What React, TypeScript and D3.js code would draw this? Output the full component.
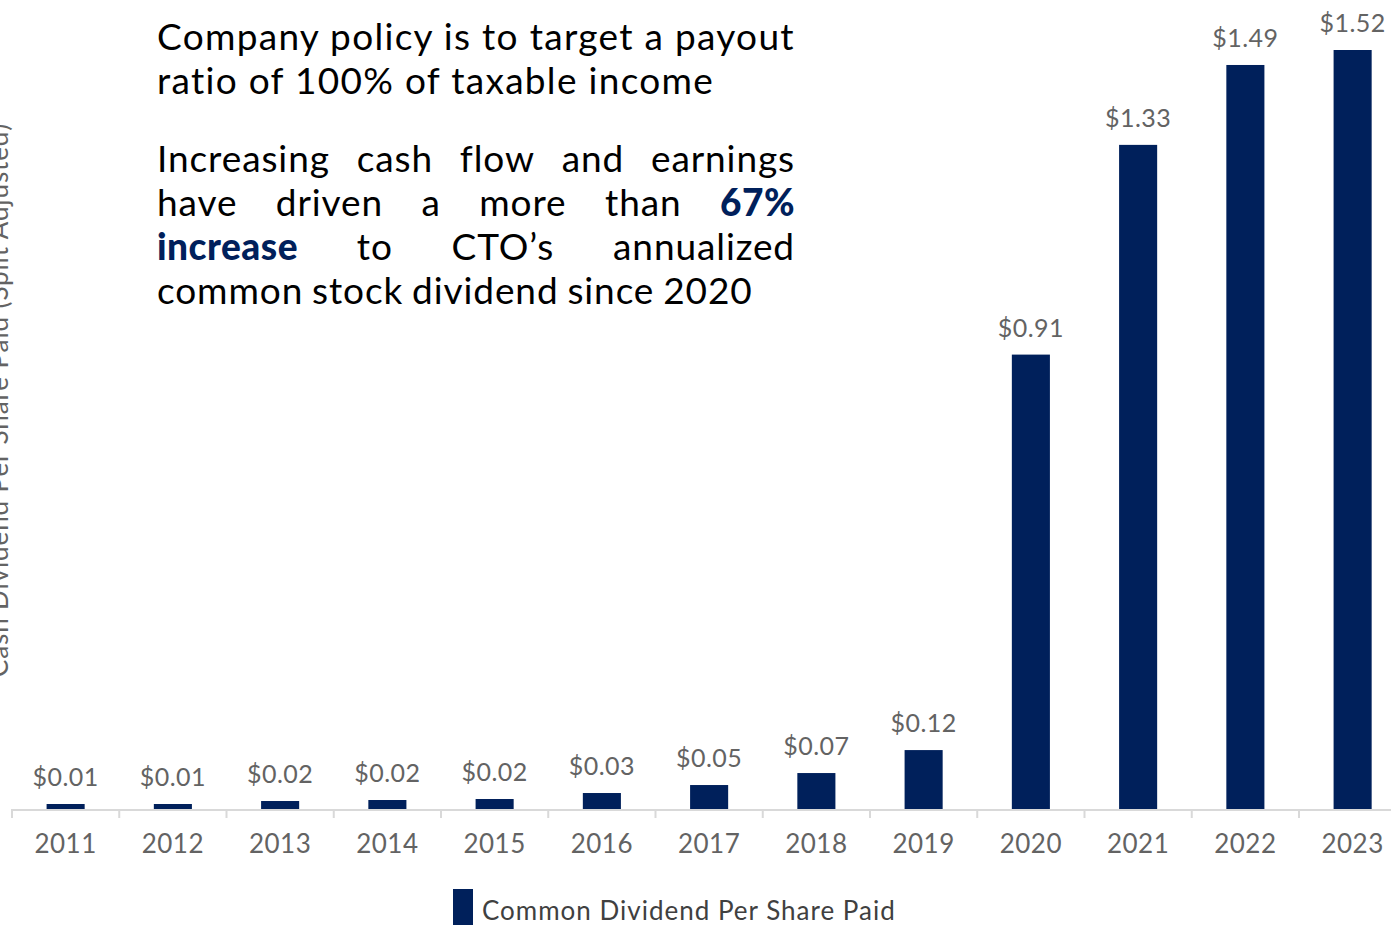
import React, { useEffect, useRef } from 'react';
import * as d3 from 'd3';

const years = ['2011', '2012', '2013', '2014', '2015', '2016', '2017', '2018', '2019', '2020', '2021', '2022', '2023'];
const dividends = [0.01, 0.01, 0.016, 0.018, 0.02, 0.032, 0.048, 0.072, 0.118, 0.91, 1.33, 1.49, 1.52];
const seriesName = 'Common Dividend Per Share Paid';
const yTitle = 'Cash Dividend Per Share Paid (Split Adjusted)';
const headLines = ['Company policy is to target a payout', 'ratio of 100% of taxable income'];
const bodyLines = [
  [{ t: 'Increasing cash flow and earnings', b: false }],
  [{ t: 'have driven a more than', b: false }, { t: '67%', b: true }],
  [{ t: 'increase', b: true }, { t: 'to CTO’s annualized', b: false }],
  [{ t: 'common stock dividend since 2020', b: false }],
];

const W = 1391;
const H = 925;
const FONT = 'Lato, "Open Sans", sans-serif';
const NAVY = '#00205b';

export default function App() {
  const ref = useRef<SVGSVGElement>(null);

  useEffect(() => {
    const svg = d3.select(ref.current);
    svg.selectAll('*').remove();

    const baseY = 809;
    const x = d3.scaleBand().domain(years).range([12, 12 + 13 * 107.25]).paddingInner(0.645).paddingOuter(0.3225);
    const y = d3.scaleLinear().domain([0, 1.52]).range([baseY, 50]);
    const fmt = d3.format('$.2f');

    const g = svg.append('g');

    // bars
    g.selectAll('rect.bar')
      .data(dividends)
      .enter()
      .append('rect')
      .attr('class', 'bar')
      .attr('x', (d, i) => x(years[i]))
      .attr('y', d => y(d))
      .attr('width', x.bandwidth())
      .attr('height', d => baseY - y(d))
      .attr('fill', NAVY);

    // value labels
    g.selectAll('text.val')
      .data(dividends)
      .enter()
      .append('text')
      .attr('class', 'val')
      .attr('x', (d, i) => x(years[i]) + x.bandwidth() / 2)
      .attr('y', d => y(d) - 18)
      .attr('text-anchor', 'middle')
      .attr('font-family', FONT)
      .attr('font-size', 25)
      .attr('letter-spacing', 0.5)
      .attr('fill', '#636363')
      .text(d => fmt(d));

    // x axis
    const step = x.step();
    const x0 = x.range()[0];
    g.append('line')
      .attr('x1', x0).attr('x2', x.range()[1])
      .attr('y1', baseY + 1).attr('y2', baseY + 1)
      .attr('stroke', '#d9d9d9').attr('stroke-width', 2);
    g.selectAll('line.tick')
      .data(d3.range(years.length + 1))
      .enter()
      .append('line')
      .attr('class', 'tick')
      .attr('x1', i => x0 + i * step).attr('x2', i => x0 + i * step)
      .attr('y1', baseY).attr('y2', baseY + 9)
      .attr('stroke', '#d9d9d9').attr('stroke-width', 2);
    g.selectAll('text.year')
      .data(years)
      .enter()
      .append('text')
      .attr('class', 'year')
      .attr('x', d => x(d) + x.bandwidth() / 2)
      .attr('y', 853)
      .attr('text-anchor', 'middle')
      .attr('font-family', FONT)
      .attr('font-size', 26)
      .attr('letter-spacing', 0.5)
      .attr('fill', '#636363')
      .text(d => d);

    // y title (cut off at left edge, as in the original)
    svg.append('text')
      .attr('transform', 'translate(8,400) rotate(-90)')
      .attr('text-anchor', 'middle')
      .attr('font-family', FONT)
      .attr('font-size', 26)
      .attr('letter-spacing', 0.9)
      .attr('fill', '#636363')
      .text(yTitle);

    // legend
    svg.append('rect').attr('x', 453).attr('y', 889).attr('width', 20).attr('height', 36).attr('fill', NAVY);
    svg.append('text')
      .attr('x', 482).attr('y', 920)
      .attr('font-family', FONT)
      .attr('font-size', 26)
      .attr('letter-spacing', 1.0)
      .attr('fill', '#404040')
      .text(seriesName);

    // heading text
    const left = 157;
    const right = 795;
    headLines.forEach((t, i) => {
      svg.append('text')
        .attr('x', left).attr('y', 50 + i * 44)
        .attr('font-family', FONT)
        .attr('font-size', 37)
        .attr('letter-spacing', 1.3)
        .attr('fill', '#000')
        .text(t);
    });

    // justified paragraph
    const bodyTops = [172, 216, 260, 304];
    bodyLines.forEach((segs, li) => {
      const words: { t: string; b: boolean }[] = [];
      segs.forEach(s => s.t.split(' ').forEach(w => words.push({ t: w, b: s.b })));
      const nodes = words.map(w =>
        svg.append('text')
          .attr('y', bodyTops[li])
          .attr('font-family', FONT)
          .attr('font-size', 37)
          .attr('font-weight', w.b ? 900 : 400)
          .attr('letter-spacing', w.b ? 0.5 : 0.9)
          .attr('fill', w.b ? NAVY : '#000')
          .text(w.t)
      );
      const widths = nodes.map(n => (n.node() as SVGTextElement).getComputedTextLength());
      const total = d3.sum(widths);
      const last = li === bodyLines.length - 1;
      const space = last ? 37 * 0.24 : (right - left - total) / (words.length - 1);
      let cx = left;
      nodes.forEach((n, i) => {
        n.attr('x', cx);
        cx += widths[i] + space;
      });
    });
  }, []);

  return (
    <svg ref={ref} width={W} height={H} style={{ position: 'absolute', left: 0, top: 0, background: '#fff' }} />
  );
}
